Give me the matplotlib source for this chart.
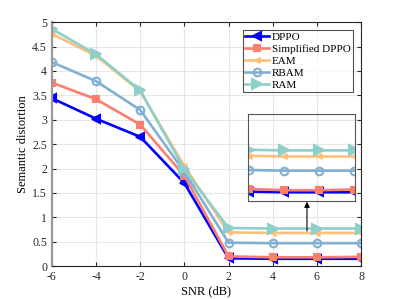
import matplotlib
matplotlib.use("Agg")
import matplotlib.pyplot as plt

plt.rcParams['font.family'] = ['Liberation Serif', 'DejaVu Serif']

snr = [-6, -4, -2, 0, 2, 4, 6, 8]
dppo = [3.44, 3.02, 2.65, 1.70, 0.16, 0.15, 0.15, 0.15]
simp = [3.76, 3.42, 2.90, 1.85, 0.20, 0.18, 0.18, 0.19]
eam = [4.76, 4.31, 3.58, 2.05, 0.69, 0.68, 0.68, 0.68]
rbam = [4.18, 3.79, 3.20, 1.93, 0.48, 0.47, 0.47, 0.47]
ram = [4.86, 4.34, 3.60, 1.98, 0.78, 0.77, 0.77, 0.77]

labels = ['DPPO', 'Simplified DPPO', 'EAM', 'RBAM', 'RAM']
series = [dppo, simp, eam, rbam, ram]
colors = ['#0000FF', '#FA7F6F', '#FFBE7A', '#82B0D2', '#8ECFC9']
markers = ['<', 's', '<', 'o', '>']
msizes = [6, 4.5, 3, 5.5, 6.5]
mfill = [True, True, True, False, True]

fig = plt.figure(figsize=(3.99, 2.99), dpi=100)
ax = fig.add_axes([0.130, 0.110, 0.775, 0.816])

def draw(a, lw=1.9):
    hs = []
    for y, lab, c, m, ms, f in zip(series, labels, colors, markers, msizes, mfill):
        h, = a.plot(snr, y, color=c, lw=lw, marker=m, ms=ms,
                    mfc=c if f else 'none', mec=c, mew=1.5, label=lab)
        hs.append(h)
    return hs

draw(ax)
ax.set_xlim(-6, 8)
ax.set_ylim(0, 5)
ax.set_xticks(snr)
ax.set_xticklabels([str(v) for v in snr])
ax.set_yticks([0, 0.5, 1, 1.5, 2, 2.5, 3, 3.5, 4, 4.5, 5])
ax.set_yticklabels(['0', '0.5', '1', '1.5', '2', '2.5', '3', '3.5', '4', '4.5', '5'])
ax.grid(True, color='#e6e6e6', lw=0.8)
ax.set_axisbelow(True)
ax.tick_params(direction='in', top=True, right=True, labelsize=8.5, colors='#262626', length=3)
for s in ['top', 'right', 'bottom']:
    ax.spines[s].set_color('#262626')
    ax.spines[s].set_linewidth(0.8)
ax.spines['left'].set_color('#999999')
ax.spines['left'].set_linewidth(1.6)
ax.set_xlabel('SNR (dB)', fontsize=9, labelpad=2)
ax.set_ylabel('Semantic distortion', fontsize=9, labelpad=2)

leg = ax.legend(loc='upper right', bbox_to_anchor=(0.974, 0.967), fontsize=8,
                frameon=True, fancybox=False, edgecolor='#262626',
                borderpad=0.2, labelspacing=0.2, handlelength=2.1,
                handletextpad=0.3, borderaxespad=0.0)
leg.get_frame().set_linewidth(0.8)

# inset
ins = fig.add_axes([247.7 / 399, 1 - 201 / 299, 107 / 399, 87 / 299])
ins.patch.set_alpha(0.0)
draw(ins)
ins.set_xlim(1.95, 8.05)
ins.set_ylim(0.02, 1.31)
ins.set_xticks([])
ins.set_yticks([])
for s in ins.spines.values():
    s.set_color('#555555')
    s.set_linewidth(0.8)

ax.annotate('', xy=(5.55, 1.32), xytext=(5.55, 0.72),
            arrowprops=dict(arrowstyle='-|>', color='black', lw=0.8,
                            mutation_scale=8, shrinkA=0, shrinkB=0))

fig.savefig('out.png', dpi=100)
